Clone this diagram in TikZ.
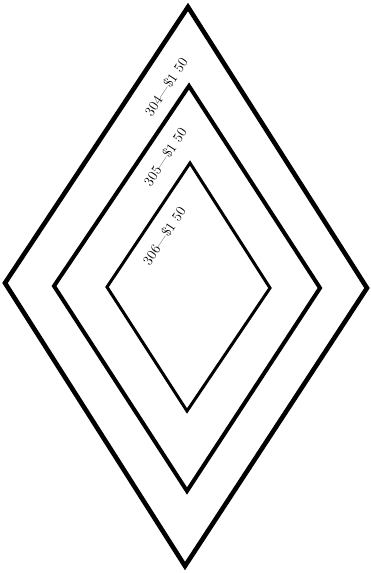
\documentclass[tikz,border=0pt]{standalone}
\usepackage{tikz}
\usetikzlibrary{positioning,calc}

\begin{document}
\begin{tikzpicture}[
  x=1pt, y=-1pt,
  rim/.style    = {draw=black, line width=#1, line join=miter},
  rim/.default  = 4pt,
  price/.style  = {font=\fontsize{14}{16}\selectfont, inner sep=0pt,
                   rotate=56.5}
]

%% ─── Page frame ─────────────────────────────────────────────────
\useasboundingbox (0,0) rectangle (371,573);

%% ─── Diamond corners (top, right, bottom, left) ─────────────────
\coordinate (outerT) at (188,7);
\coordinate (outerR) at (367,288);
\coordinate (outerB) at (185,566);
\coordinate (outerL) at (5,283);

\coordinate (midT) at (189,86);
\coordinate (midR) at (320,288);
\coordinate (midB) at (187,491);
\coordinate (midL) at (54,286);

\coordinate (innT) at (190,163);
\coordinate (innR) at (270,288);
\coordinate (innB) at (187,411);
\coordinate (innL) at (107,287);

%% ─── Outlines ───────────────────────────────────────────────────
\draw[rim=4.6pt] (outerT) -- (outerR) -- (outerB) -- (outerL) -- cycle;
\draw[rim=4pt]   (midT) -- (midR) -- (midB) -- (midL) -- cycle;
\draw[rim=3pt]   (innT) -- (innR) -- (innB) -- (innL) -- cycle;

%% ─── Price labels along the upper-left edges ────────────────────
\node[price] (lab304) at (166,87)  {304---\$1 50};
\node[price] (lab305) at (165,157) {305---\$1 50};
\node[price] (lab306) at (164,236) {306---\$1 50};

\end{tikzpicture}
\end{document}
